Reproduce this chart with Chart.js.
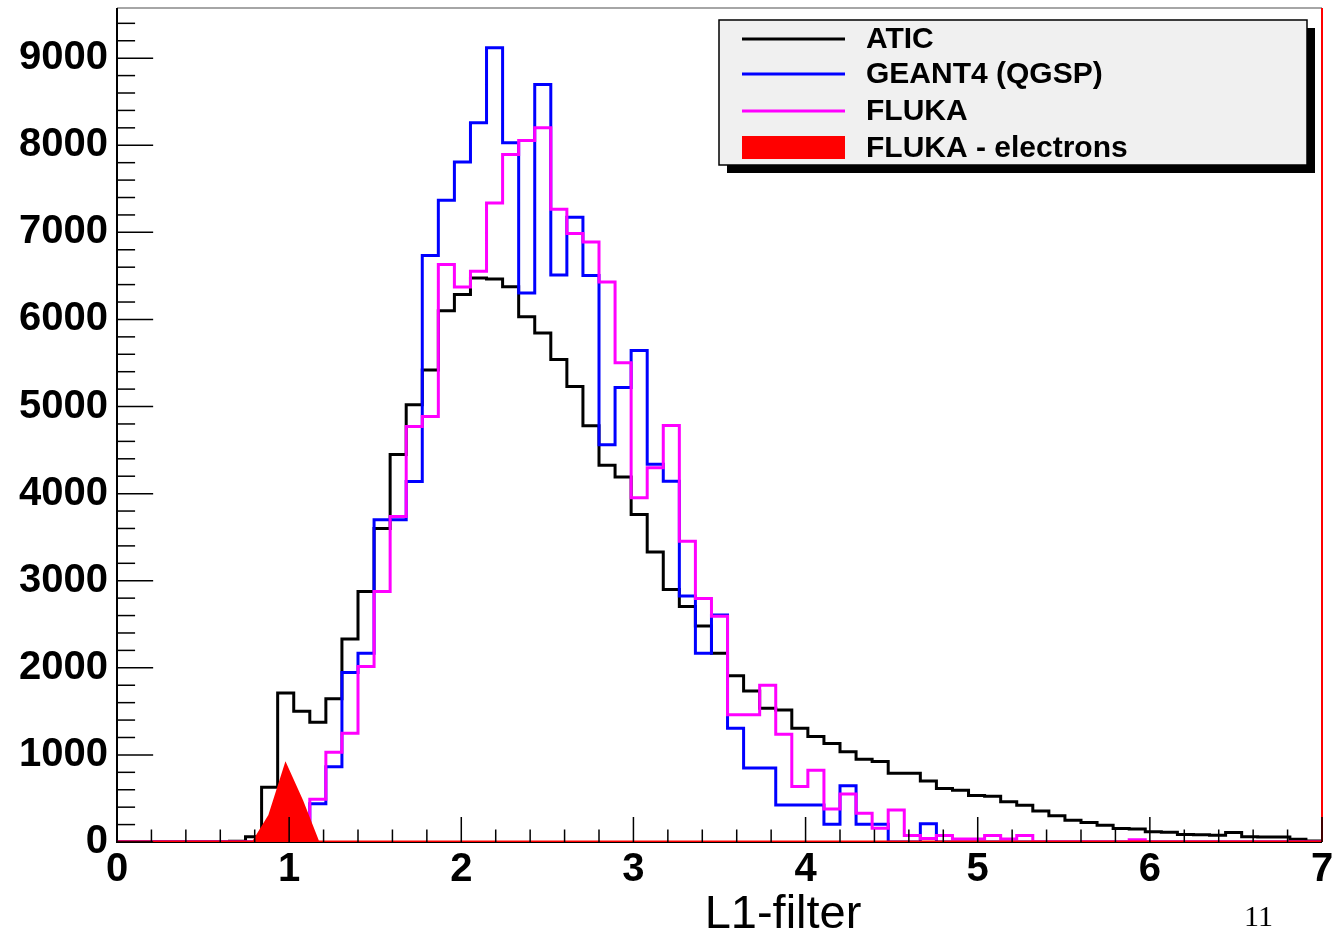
<!DOCTYPE html>
<html><head><meta charset="utf-8">
<script src="https://cdn.jsdelivr.net/npm/chart.js@4.4.1/dist/chart.umd.min.js"></script>
<style>html,body{margin:0;padding:0;background:#fff;overflow:hidden}#wrap{width:1338px;height:932px;position:relative}</style>
</head><body><div id="wrap"><canvas id="c" width="1338" height="932"></canvas></div>
<script>
// ---- data ----
const xRange = [0, 7];
const nBins = 75;
const yMax = 9576;
const xTitle = 'L1-filter';
const pageNumber = '11';
const seriesLabels = ['ATIC', 'GEANT4 (QGSP)', 'FLUKA', 'FLUKA - electrons'];
const atic = [0,0,0,0,0,0,0,10,60,630,
  1710,1500,1375,1645,2330,2875,3600,4450,5020,5420,
  6100,6285,6475,6465,6375,6030,5845,5540,5230,4780,
  4325,4190,3760,3330,2900,2705,2480,2168,1910,1735,
  1535,1515,1305,1210,1130,1035,950,925,790,790,
  700,615,595,535,525,462,423,355,300,250,
  225,192,155,150,118,112,86,84,78,108,
  60,58,56,32,12];
const geant4 = [0,0,0,0,0,0,0,0,0,0,
  0,0,440,865,1946,2168,3700,3700,4140,6733,
  7369,7809,8258,9120,8028,6305,8698,6510,7173,6505,
  4560,5220,5643,4337,4143,2825,2168,2605,1306,850,
  850,425,425,425,205,645,205,205,0,0,
  210,0,0,0,0,0,0,0,0,0,
  0,0,0,0,0,0,0,0,0,0,
  0,0,0,0,0];
const fluka = [0,0,0,0,0,0,0,0,0,0,
  0,0,490,1031,1249,2014,2876,3738,4772,4887,
  6630,6373,6553,7338,7893,8054,8200,7266,6987,6888,
  6429,5504,3953,4298,4783,3453,2795,2592,1460,1460,
  1800,1237,636,823,380,550,330,158,368,75,
  40,75,35,35,75,35,75,0,0,0,
  0,0,0,25,0,0,0,0,0,0,
  0,0,0,0,0];
const flukaElectrons = [0,0,0,0,0,0,0,0,0,300,
  880,470,0,0,0,0,0,0,0,0,
  0,0,0,0,0,0,0,0,0,0,
  0,0,0,0,0,0,0,0,0,0,
  0,0,0,0,0,0,0,0,0,0,
  0,0,0,0,0,0,0,0,0,0,
  0,0,0,0,0,0,0,0,0,0,
  0,0,0,0,0];
const xTickValues = [0,1,2,3,4,5,6,7];
const yTickValues = [0,1000,2000,3000,4000,5000,6000,7000,8000,9000];

// ---- helpers ----
const binW = (xRange[1]-xRange[0])/nBins;
const edges = Array.from({length:nBins+1}, (_, i) => xRange[0] + i*binW);
function stepPoints(vals){
  const pts = vals.map((v,i)=>({x:edges[i], y:v}));
  pts.push({x:edges[nBins], y:vals[nBins-1]});
  return pts;
}
function centerPoints(vals){
  const pts = [{x:xRange[0], y:0}];
  vals.forEach((v,i)=>pts.push({x:edges[i]+binW/2, y:v}));
  pts.push({x:xRange[1], y:0});
  return pts;
}
const colors = ['#000000','#0000ff','#ff00ff','#ff0000'];
const FONT = '"Liberation Sans", Arial, Helvetica, sans-serif';

const decor = {
  id:'decor',
  beforeDatasetsDraw(chart){
    const {ctx, chartArea:a} = chart;
    ctx.save();
    ctx.lineWidth = 1.5;
    ctx.strokeStyle = '#888';
    ctx.beginPath(); ctx.moveTo(a.left, a.top); ctx.lineTo(a.right, a.top); ctx.stroke();
    ctx.strokeStyle = '#000';
    ctx.lineWidth = 2;
    ctx.beginPath(); ctx.moveTo(a.left, a.top); ctx.lineTo(a.left, a.bottom); ctx.lineTo(a.right, a.bottom); ctx.stroke();
    ctx.restore();
  },
  afterDatasetsDraw(chart){
    const {ctx, chartArea:a, scales:{x, y}} = chart;
    ctx.save();
    ctx.strokeStyle = '#ff0000'; ctx.lineWidth = 2;
    ctx.beginPath(); ctx.moveTo(a.right, a.top); ctx.lineTo(a.right, a.bottom); ctx.stroke();
    ctx.strokeStyle = '#000'; ctx.lineWidth = 1.5;
    const h = a.bottom - a.top, w = a.right - a.left;
    for (let k = 0; k <= 35; k++){
      const v = xRange[0] + k*0.2;
      const px = x.getPixelForValue(v);
      const len = (k % 5 === 0) ? 0.03*h : 0.015*h;
      ctx.beginPath(); ctx.moveTo(px, a.bottom); ctx.lineTo(px, a.bottom - len); ctx.stroke();
    }
    for (let k = 0; k*200 <= yMax; k++){
      const py = y.getPixelForValue(k*200);
      const len = (k % 5 === 0) ? 0.03*w : 0.015*w;
      ctx.beginPath(); ctx.moveTo(a.left, py); ctx.lineTo(a.left + len, py); ctx.stroke();
    }
    const L = {x:719, y:20, w:588, h:145, off:8};
    ctx.fillStyle = '#000'; ctx.fillRect(L.x+L.off, L.y+L.off, L.w, L.h);
    ctx.fillStyle = '#f0f0f0'; ctx.fillRect(L.x, L.y, L.w, L.h);
    ctx.strokeStyle = '#000'; ctx.lineWidth = 1.5; ctx.strokeRect(L.x, L.y, L.w, L.h);
    const rows = [39, 74, 111, 148];
    seriesLabels.forEach((lab, i) => {
      if (i < 3){
        ctx.strokeStyle = colors[i]; ctx.lineWidth = 3;
        ctx.beginPath(); ctx.moveTo(742, rows[i]); ctx.lineTo(845, rows[i]); ctx.stroke();
      } else {
        ctx.fillStyle = colors[i]; ctx.fillRect(742, rows[i]-12, 103, 23);
      }
      ctx.fillStyle = '#000';
      ctx.font = 'bold 30px ' + FONT;
      ctx.textBaseline = 'middle'; ctx.textAlign = 'left';
      ctx.fillText(lab, 866, rows[i]+1);
    });
    ctx.fillStyle = '#000';
    ctx.font = '47px ' + FONT;
    ctx.textBaseline = 'alphabetic'; ctx.textAlign = 'center';
    ctx.fillText(xTitle, 783, 928);
    ctx.font = '30px "Liberation Serif", "Times New Roman", serif';
    ctx.textAlign = 'left';
    ctx.fillText(pageNumber, 1244, 926);
    ctx.restore();
  }
};

const histDs = (label, vals, color, order) => ({
  label, data: stepPoints(vals), stepped:'before', borderColor:color, borderWidth:3,
  pointRadius:0, fill:false, order, borderJoinStyle:'miter', borderCapStyle:'butt'
});

new Chart(document.getElementById('c'), {
  type:'line',
  data:{datasets:[
    histDs(seriesLabels[0], atic, colors[0], 4),
    histDs(seriesLabels[1], geant4, colors[1], 3),
    histDs(seriesLabels[2], fluka, colors[2], 2),
    {label:seriesLabels[3], data:centerPoints(flukaElectrons), borderColor:colors[3], backgroundColor:colors[3],
     borderWidth:3, pointRadius:0, fill:'origin', order:1, tension:0}
  ]},
  options:{
    responsive:false, animation:false, devicePixelRatio:1,
    layout:{padding:{left:0, top:8, right:16, bottom:0}},
    plugins:{legend:{display:false}, tooltip:{enabled:false}},
    scales:{
      x:{type:'linear', min:xRange[0], max:xRange[1],
         afterBuildTicks(s){ s.ticks = xTickValues.map(v=>({value:v})); },
         afterFit(s){ s.height = 90; s.paddingLeft = 0; s.paddingRight = 0; s.paddingTop = 0; s.paddingBottom = 0; },
         ticks:{font:{family:FONT, weight:'bold', size:40}, color:'#000', padding:4, maxRotation:0, autoSkip:false,
                callback:v=>String(v)},
         grid:{display:false, drawTicks:false}, border:{display:false}},
      y:{type:'linear', min:0, max:yMax,
         afterBuildTicks(s){ s.ticks = yTickValues.map(v=>({value:v})); },
         afterFit(s){ s.width = 117; s.paddingTop = 0; s.paddingBottom = 0; s.paddingLeft = 0; s.paddingRight = 0; },
         ticks:{font:{family:FONT, weight:'bold', size:40}, color:'#000', padding:9, autoSkip:false,
                callback:v=>String(v)},
         grid:{display:false, drawTicks:false}, border:{display:false}}
    }
  },
  plugins:[decor]
});
</script></body></html>
